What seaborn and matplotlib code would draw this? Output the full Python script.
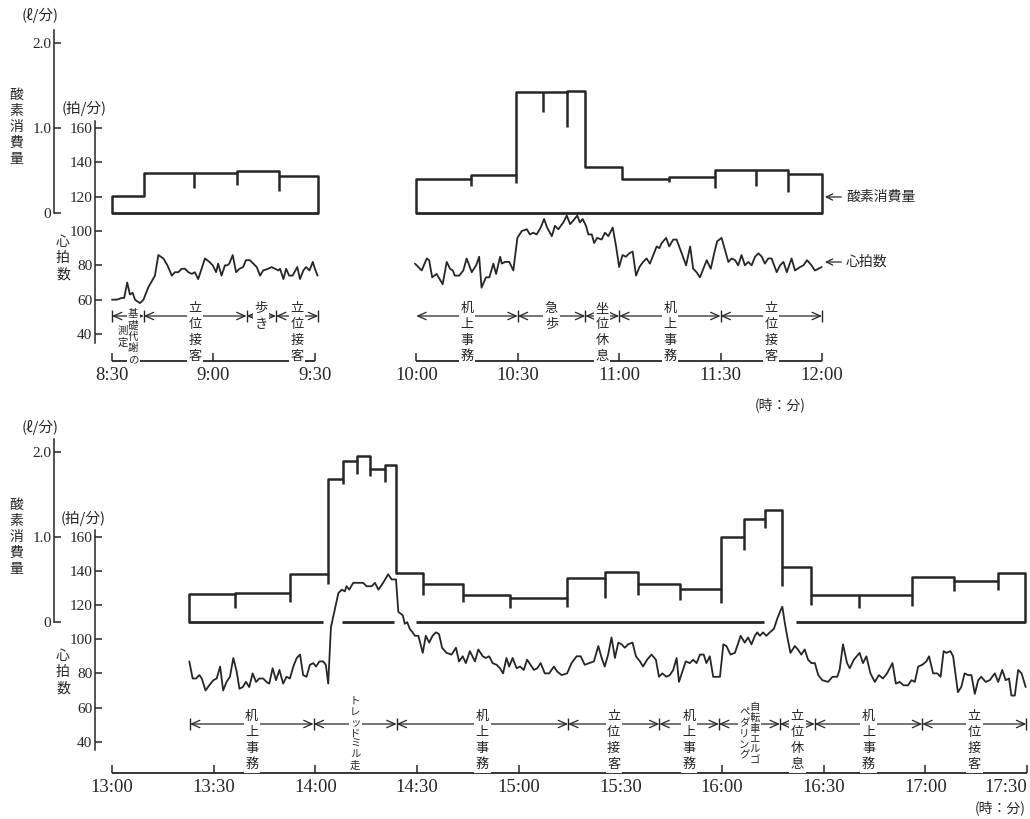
import numpy as np
import matplotlib
matplotlib.use("Agg")
import matplotlib.pyplot as plt
import seaborn as sns

# ------------------------------------------------------------------
# Morning (minutes after 8:30)
# ------------------------------------------------------------------
am_ticks = [0, 30, 60, 90, 120, 150, 180, 210]
am_tick_labels = ["8:30", "9:00", "9:30", "10:00", "10:30", "11:00", "11:30", "12:00"]
am_axis_spans = [(0, 60), (90, 210)]

# oxygen uptake (l/min) per collection interval
am1_o2_edges = [0, 9.6, 24.3, 36.9, 49.5, 61.0]
am1_o2_levels = [0.20, 0.47, 0.47, 0.495, 0.437]
am1_o2_marks = [0.20, 0.29, 0.33, 0.26]

am2_o2_edges = [90, 106.1, 119.4, 127.6, 134.5, 140.0, 150.8, 164.8, 178.4, 190.5, 199.8, 210.0]
am2_o2_levels = [0.40, 0.445, 1.43, 1.43, 1.44, 0.543, 0.394, 0.418, 0.504, 0.504, 0.457]
am2_o2_marks = [0.31, 0.35, 1.185, 1.01, 0.543, 0.394, 0.36, 0.29, 0.315, 0.25]

# heart rate (beats/min)
am1_hr_time = [0.0, 1.4, 2.9, 3.6, 4.5, 5.3, 6.1, 6.8, 7.5, 8.3, 9.3, 10.7, 12.7, 13.7,
               15.2, 16.4, 17.7, 18.6, 19.6, 20.6, 21.6, 22.6, 23.6, 24.5, 25.5, 27.5,
               28.8, 29.8, 30.8, 31.4, 32.4, 33.4, 34.1, 34.7, 35.7, 36.7, 37.7, 38.8,
               39.6, 40.8, 41.8, 42.8, 43.8, 44.7, 46.2, 47.2, 48.2, 49.2, 49.7, 50.7,
               51.5, 52.4, 53.4, 54.8, 55.6, 56.6, 57.4, 58.4, 59.4, 60.0, 60.8]
am1_hr_bpm = [60, 60, 61, 61, 70, 63, 64, 60, 59, 58, 60, 67, 74, 86,
              84, 80, 74, 76, 76, 78, 78, 76, 75, 76, 72, 84,
              82, 80, 76, 81, 74, 80, 80, 81, 86, 76, 78, 79,
              83, 83, 81, 79, 74, 77, 78, 79, 78, 77, 78, 72,
              78, 74, 74, 79, 72, 77, 79, 77, 82, 78, 74]

am2_hr_time = [89.6, 91.6, 93.1, 93.8, 94.7, 96.0, 97.8, 99.0, 100.0, 100.8, 101.4, 102.7,
               103.9, 104.9, 106.4, 107.7, 108.6, 109.3, 110.6, 111.6, 112.8, 113.6, 114.8,
               115.3, 116.2, 117.5, 118.7, 119.9, 121.2, 122.7, 123.6, 124.6, 125.6, 126.8,
               127.8, 128.7, 130.1, 131.0, 132.0, 133.5, 134.5, 135.5, 136.4, 137.6, 138.4,
               139.2, 140.2, 140.9, 141.9, 142.6, 143.5, 144.8, 145.8, 146.8, 148.1, 149.1,
               150.0, 151.0, 152.0, 153.0, 154.0, 155.0, 156.0, 157.1, 158.1, 159.1, 160.3,
               161.1, 161.9, 162.6, 163.9, 164.8, 166.0, 167.0, 168.5, 169.8, 171.0, 171.9,
               172.9, 173.9, 175.1, 175.9, 177.1, 178.1, 179.0, 180.3, 181.3, 182.3, 183.3,
               184.3, 185.2, 186.2, 187.2, 188.2, 189.2, 190.2, 191.2, 192.2, 193.1, 194.1,
               195.1, 196.6, 197.6, 198.6, 199.6, 201.0, 202.0, 203.5, 204.5, 205.6, 206.9,
               207.9, 208.9, 209.9]
am2_hr_bpm = [81, 77, 84, 83, 73, 75, 69, 82, 78, 77, 74, 74,
              77, 84, 76, 80, 85, 67, 73, 73, 81, 75, 85,
              81, 82, 82, 77, 96, 100, 101, 98, 99, 98, 102,
              107, 102, 97, 103, 101, 105, 109, 104, 106, 109, 105,
              107, 103, 98, 98, 93, 96, 95, 99, 97, 102, 91,
              79, 86, 85, 87, 88, 74, 79, 82, 84, 81, 87,
              91, 90, 93, 96, 91, 95, 95, 87, 80, 91, 78,
              76, 73, 79, 83, 78, 87, 94, 96, 89, 82, 84,
              83, 80, 86, 80, 82, 80, 85, 87, 85, 81, 84,
              84, 76, 80, 82, 76, 84, 77, 79, 80, 83, 80,
              77, 78, 79]

am1_act_bounds = [0, 9.4, 39.8, 48.5, 61.0]
am1_act_labels = [["基礎代謝の", "測定"], ["立位接客"], ["歩き"], ["立位接客"]]
am2_act_bounds = [90, 120, 140, 150, 180, 210]
am2_act_labels = [["机上事務"], ["急歩"], ["坐位休息"], ["机上事務"], ["立位接客"]]

# ------------------------------------------------------------------
# Afternoon (minutes after 13:00)
# ------------------------------------------------------------------
pm_ticks = [0, 30, 60, 90, 120, 150, 180, 210, 240, 270]
pm_tick_labels = ["13:00", "13:30", "14:00", "14:30", "15:00", "15:30",
                  "16:00", "16:30", "17:00", "17:30"]
pm_axis_spans = [(0, 270)]

pm_o2_edges = [22.7, 36.3, 52.5, 63.6, 68.1, 72.2, 76.1, 80.5, 83.8, 91.7, 103.5, 117.4,
               134.3, 145.4, 155.3, 167.6, 179.6, 186.4, 192.6, 197.8, 206.4, 220.4,
               236.2, 248.4, 261.3, 269.3]
pm_o2_levels = [0.327, 0.34, 0.56, 1.69, 1.90, 1.96, 1.80, 1.85, 0.58, 0.45, 0.31, 0.28,
                0.52, 0.59, 0.45, 0.386, 1.00, 1.21, 1.32, 0.64, 0.32, 0.31, 0.53, 0.48, 0.58]
pm_o2_marks = [0.165, 0.23, 0.45, 1.62, 1.74, 1.72, 1.65, 0.58, 0.315, 0.23, 0.16, 0.17,
               0.28, 0.32, 0.26, 0.22, 0.85, 1.11, 0.42, 0.20, 0.16, 0.185, 0.36, 0.37]
pm_base_gaps = [(62.2, 67.9), (83.3, 89.7), (192.4, 201.7)]

pm_hr_time = [22.8, 23.8, 24.8, 25.8, 26.5, 27.6, 28.7, 29.9, 30.9, 31.9, 32.8, 33.8, 34.8,
              35.8, 36.8, 37.6, 38.6, 39.5, 40.5, 41.5, 42.5, 43.5, 44.6, 45.6, 46.4, 47.4,
              48.4, 49.4, 50.5, 51.5, 52.5, 53.5, 54.5, 55.5, 56.4, 57.4, 58.4, 59.4, 60.2,
              61.2, 62.3, 63.1, 63.8, 64.6, 65.6, 66.8, 67.8, 68.7, 69.2, 70.0, 71.2, 72.7,
              74.1, 75.1, 76.6, 77.6, 78.6, 80.0, 81.5, 82.5, 83.8, 84.5, 85.8, 86.4, 87.1,
              87.9, 88.7, 89.4, 90.4, 91.7, 92.6, 93.6, 94.6, 95.6, 96.5, 97.4, 98.7, 100.2,
              101.5, 102.4, 103.5, 104.4, 105.6, 107.1, 108.1, 109.4, 110.3, 111.3, 112.3,
              113.5, 114.5, 115.4, 116.4, 117.2, 118.2, 119.4, 120.4, 121.5, 122.5, 123.5,
              124.5, 125.5, 126.5, 127.7, 129.0, 130.4, 131.4, 132.7, 134.3, 135.6, 137.1,
              138.3, 139.5, 140.8, 142.2, 143.5, 144.5, 145.4, 146.4, 147.4, 148.4, 149.4,
              150.4, 151.3, 152.3, 153.6, 154.6, 155.8, 156.7, 157.9, 159.2, 160.5, 161.4,
              162.4, 163.6, 164.6, 165.6, 166.6, 167.3, 168.3, 169.3, 170.5, 171.5, 172.5,
              173.5, 174.6, 175.4, 176.4, 177.4, 179.4, 180.4, 181.3, 182.5, 183.8, 184.5,
              185.5, 186.7, 187.7, 188.7, 189.7, 190.4, 191.2, 192.1, 193.1, 194.1, 195.3,
              196.3, 197.3, 197.8, 198.5, 199.2, 200.2, 201.5, 202.4, 203.4, 204.4, 205.4,
              206.4, 207.4, 208.4, 209.6, 211.3, 212.6, 214.0, 214.7, 215.7, 216.9, 217.7,
              218.9, 220.6, 221.6, 222.6, 223.8, 225.1, 226.3, 227.5, 228.7, 230.3, 231.3,
              232.4, 233.6, 234.9, 235.9, 236.9, 237.9, 239.1, 240.3, 241.1, 242.3, 243.5,
              244.5, 245.4, 246.2, 247.4, 248.2, 249.6, 250.6, 251.6, 252.6, 253.6, 254.6,
              255.6, 256.5, 257.8, 259.0, 260.5, 261.5, 262.7, 263.7, 264.7, 265.4, 266.4,
              267.4, 268.4, 269.6]
pm_hr_bpm = [87, 77, 77, 79, 77, 70, 73, 76, 77, 84, 70, 75, 78,
             89, 81, 71, 72, 75, 72, 80, 75, 77, 77, 75, 74, 83,
             76, 82, 74, 78, 77, 84, 89, 91, 79, 78, 85, 86, 84,
             87, 87, 85, 74, 107, 116, 127, 129, 128, 131, 129, 133, 133,
             133, 131, 131, 133, 129, 133, 138, 135, 135, 116, 114, 109, 110,
             106, 104, 102, 102, 92, 102, 98, 102, 104, 103, 95, 92, 91,
             95, 87, 90, 86, 93, 87, 94, 90, 89, 90, 86,
             85, 83, 80, 89, 84, 89, 83, 84, 82, 88, 85,
             82, 83, 86, 80, 80, 84, 81, 79, 80, 86, 90,
             90, 85, 86, 87, 96, 89, 84, 91, 101, 89, 98,
             97, 95, 97, 98, 90, 87, 84, 88, 91, 88, 78,
             80, 78, 79, 82, 89, 75, 81, 87, 86, 88, 86,
             91, 91, 86, 90, 78, 78, 97, 96, 91, 92, 96,
             102, 98, 101, 97, 102, 104, 102, 104, 102, 104, 106,
             112, 117, 119, 110, 102, 92, 96, 94, 91, 94, 88,
             86, 86, 79, 76, 75, 78, 78, 82, 97, 86, 83,
             88, 92, 86, 90, 80, 75, 79, 77, 80, 86, 74,
             75, 73, 73, 76, 75, 84, 85, 87, 90, 80, 80,
             78, 93, 92, 93, 90, 69, 72, 80, 79, 79, 68,
             76, 78, 75, 76, 80, 75, 82, 76, 77, 67, 67,
             82, 80, 72]

pm_act_bounds = [23, 59.5, 84, 134.6, 161.5, 179.1, 197.1, 207.4, 239.1, 269.8]
pm_act_labels = [["机上事務"], ["トレッドミル走"], ["机上事務"], ["立位接客"], ["机上事務"],
                 ["自転車エルゴ", "ペダリング"], ["立位休息"], ["机上事務"], ["立位接客"]]

hr_ticks = [40, 60, 80, 100, 120, 140, 160]
o2_ticks = [0, 1.0, 2.0]
o2_tick_labels = ["0", "1.0", "2.0"]

# ------------------------------------------------------------------
# Drawing
# ------------------------------------------------------------------
W, H = 1030, 819
INK = "#262626"
SERIF = "Liberation Serif"

sns.set_theme(style="white")
plt.rcParams["font.family"] = ["Noto Sans CJK JP", "DejaVu Sans"]
plt.rcParams["text.color"] = INK

fig = plt.figure(figsize=(W / 100, H / 100), dpi=100)

# per-label text size, top offset (px relative to the arrow line) and line spacing
LABEL_LAYOUT = {
    "基礎代謝の": (7.5, -7, 1.15),
    "測定": (7.5, 10, 1.15),
    "トレッドミル走": (7.5, -28, 1.1),
    "自転車エルゴ": (7.5, -22, 1.1),
    "ペダリング": (7.5, -17, 1.1),
}
DEFAULT_LAYOUT = (9.5, -14, 1.3)


def make_panel(top_px, bot_px, xref, hr_ref, o2_ref):
    ax = fig.add_axes([0, 1 - bot_px / H, 1, (bot_px - top_px) / H])
    ax.patch.set_alpha(0)
    (xa, ta), (xb, tb) = xref
    kx = (tb - ta) / (xb - xa)

    def tx(px):
        return ta + (px - xa) * kx

    (ya, va), (yb, vb) = hr_ref
    ky = (vb - va) / (yb - ya)

    def hy(py):
        return va + (py - ya) * ky

    ax.set_xlim(tx(0), tx(W))
    ax.set_ylim(hy(bot_px), hy(top_px))

    ax2 = ax.twinx()
    ax2.patch.set_alpha(0)
    (yc, oc), (yd, od) = o2_ref
    ko = (od - oc) / (yd - yc)
    ax2.set_ylim(oc + (bot_px - yc) * ko, oc + (top_px - yc) * ko)
    return ax, ax2, tx, hy


def style_axes(ax, ax2, tx, hy, axis_py, ticks, labels, spans):
    for sp in list(ax.spines.values()) + list(ax2.spines.values()):
        sp.set_visible(False)
    # heart-rate scale
    sp = ax.spines["left"]
    sp.set_visible(True)
    sp.set_position(("data", tx(95)))
    sp.set_bounds(35, 164)
    sp.set_color(INK)
    sp.set_linewidth(1.1)
    ax.set_yticks(hr_ticks, labels=[str(v) for v in hr_ticks], fontfamily=SERIF, fontsize=11)
    ax.tick_params(axis="y", left=True, right=False, direction="in", length=5, width=1.1,
                   color=INK, pad=2, labelcolor=INK)
    # oxygen scale
    sp2 = ax2.spines["left"]
    sp2.set_visible(True)
    sp2.set_position(("data", tx(54)))
    sp2.set_bounds(0, 2.16)
    sp2.set_color(INK)
    sp2.set_linewidth(1.1)
    ax2.yaxis.set_ticks_position("left")
    ax2.set_yticks(o2_ticks, labels=o2_tick_labels, fontfamily=SERIF, fontsize=11)
    ax2.tick_params(axis="y", left=True, right=False, labelleft=True, labelright=False,
                    direction="in", length=5, width=1.1, color=INK, pad=2, labelcolor=INK)
    # time axis
    y_axis = hy(axis_py)
    ax.spines["bottom"].set_position(("data", y_axis))
    ax.set_xticks(ticks, labels=labels, fontfamily=SERIF, fontsize=13.5)
    ax.tick_params(axis="x", bottom=True, direction="in", length=6, width=1.1,
                   color=INK, pad=4, labelcolor=INK)
    ax.hlines([y_axis] * len(spans), [s[0] for s in spans], [s[1] for s in spans],
              color=INK, lw=1.3)


def draw_o2(ax2, edges, levels, marks, gaps=()):
    xs, ys = [edges[0]], [0.0]
    for i, lv in enumerate(levels):
        xs += [edges[i], edges[i + 1]]
        ys += [lv, lv]
    xs.append(edges[-1])
    ys.append(0.0)
    sns.lineplot(x=xs, y=ys, ax=ax2, sort=False, estimator=None, color=INK, lw=1.8)
    lo = np.minimum(levels[:-1], levels[1:])
    ax2.vlines(edges[1:-1], marks, lo, color=INK, lw=1.8)
    # zero line of the oxygen record, interrupted where the heart-rate trace crosses
    cuts = [edges[0]] + [v for g in gaps for v in g] + [edges[-1]]
    ax2.hlines([0] * (len(cuts) // 2), cuts[0::2], cuts[1::2], color=INK, lw=2.0)


def draw_hr(ax, t, bpm):
    sns.lineplot(x=t, y=bpm, ax=ax, sort=False, estimator=None, color=INK, lw=1.3)


def activity_row(ax, tx, hy, y_py, bounds, labels, start_bar=True):
    y = hy(y_py)
    dx = tx(1) - tx(0)
    for a, b in zip(bounds[:-1], bounds[1:]):
        ax.annotate("", xy=(a, y), xytext=(b, y),
                    arrowprops=dict(arrowstyle="<->,head_length=0.5,head_width=0.22",
                                    color=INK, lw=0.9, shrinkA=0, shrinkB=0))
    bar_x = bounds if start_bar else bounds[1:]
    ax.plot(bar_x, [y] * len(bar_x), ls="none", marker="|", ms=9, mew=1.0, color=INK)
    for a, b, cols in zip(bounds[:-1], bounds[1:], labels):
        mid = (a + b) / 2
        n = len(cols)
        for j, col in enumerate(cols):
            size, off, ls = LABEL_LAYOUT.get(col, DEFAULT_LAYOUT)
            xo = ((n - 1) / 2 - j) * 10.5 * dx
            ax.text(mid + xo, hy(y_py + off), "\n".join(col), ha="center", va="top",
                    fontsize=size, linespacing=ls, color=INK, zorder=6,
                    bbox=dict(boxstyle="square,pad=0.12", fc="white", ec="none"))


def vlabel(x_px, y_px, s, size=10, ls=1.25):
    fig.text(x_px / W, 1 - y_px / H, "\n".join(s), ha="center", va="center",
             fontsize=size, linespacing=ls, color=INK)


def flabel(x_px, y_px, s, size=10, **kw):
    fig.text(x_px / W, 1 - y_px / H, s, ha="center", va="center", fontsize=size,
             color=INK, **kw)


# ---------------- morning panel ----------------
ax, ax2, tx, hy = make_panel(0, 409, ((112, 0), (822, 210)), ((128, 160), (334, 40)),
                             ((212.7, 0.0), (43.3, 2.0)))
style_axes(ax, ax2, tx, hy, 361, am_ticks, am_tick_labels, am_axis_spans)
draw_o2(ax2, am1_o2_edges, am1_o2_levels, am1_o2_marks)
draw_o2(ax2, am2_o2_edges, am2_o2_levels, am2_o2_marks)
draw_hr(ax, am1_hr_time, am1_hr_bpm)
draw_hr(ax, am2_hr_time, am2_hr_bpm)
activity_row(ax, tx, hy, 316, am1_act_bounds, am1_act_labels, start_bar=True)
activity_row(ax, tx, hy, 316, am2_act_bounds, am2_act_labels, start_bar=False)

for text, ypx in (("酸素消費量", 197), ("心拍数", 262)):
    ax.annotate(text, xy=(tx(825), hy(ypx)), xytext=(tx(846), hy(ypx)),
                ha="left", va="center", fontsize=10, color=INK,
                arrowprops=dict(arrowstyle="->,head_length=0.45,head_width=0.22",
                                color=INK, lw=0.9, shrinkA=1, shrinkB=0, relpos=(0, 0.5)))

flabel(40, 15, "(ℓ/分)", size=10.5)
flabel(84, 108, "(拍/分)", size=10.5)
vlabel(16, 127, "酸素消費量", size=10, ls=1.2)
vlabel(63, 258, "心拍数", size=10, ls=1.2)
flabel(780, 405, "(時：分)", size=10)

# ---------------- afternoon panel ----------------
bx, bx2, btx, bhy = make_panel(409, 819, ((112, 0), (1027, 270)), ((536.7, 160), (741.7, 40)),
                               ((621.7, 0.0), (452.3, 2.0)))
style_axes(bx, bx2, btx, bhy, 773, pm_ticks, pm_tick_labels, pm_axis_spans)
# last time label sits flush against the right edge
bx.get_xticklabels()[-1].set_horizontalalignment("right")
draw_o2(bx2, pm_o2_edges, pm_o2_levels, pm_o2_marks, pm_base_gaps)
draw_hr(bx, pm_hr_time, pm_hr_bpm)
activity_row(bx, btx, bhy, 724, pm_act_bounds, pm_act_labels, start_bar=True)

flabel(40, 427, "(ℓ/分)", size=10.5)
flabel(83, 518, "(拍/分)", size=10.5)
vlabel(16, 537, "酸素消費量", size=10, ls=1.2)
vlabel(63, 672, "心拍数", size=10, ls=1.2)
flabel(1000, 808, "(時：分)", size=10)

fig.savefig("out.png", dpi=100)
